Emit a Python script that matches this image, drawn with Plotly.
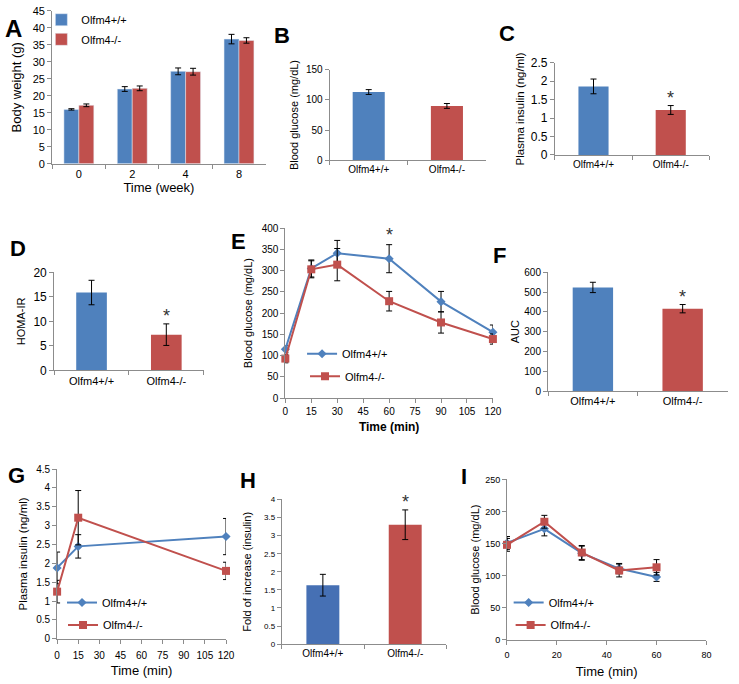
import plotly.graph_objects as go

W, H = 739, 684
BLUE = "#4F81BD"
RED = "#C0504D"
FONT = "Liberation Sans"
AXC = "#8C8C8C"

# ---------------- data ----------------
genotypes = ["Olfm4+/+", "Olfm4-/-"]

# A: body weight
weeks = ["0", "2", "4", "8"]
bw_wt = [16.0, 22.0, 27.2, 36.7]
bw_wt_err = [0.2, 0.7, 1.0, 1.4]
bw_ko = [17.2, 22.2, 27.1, 36.3]
bw_ko_err = [0.4, 0.7, 1.0, 0.8]

# B: fasting blood glucose
glu = [113, 90]
glu_err = [4, 4]

# C: plasma insulin
ins = [1.86, 1.22]
ins_err = [0.2, 0.12]

# D: HOMA-IR
homa = [15.9, 7.3]
homa_err = [2.5, 2.2]

# E: GTT
gtt_t = [0, 15, 30, 60, 90, 120]
gtt_wt = [115, 305, 341, 328, 227, 155]
gtt_wt_err = [8, 20, 30, 33, 24, 17]
gtt_ko = [93, 303, 314, 228, 178, 139]
gtt_ko_err = [10, 20, 38, 23, 25, 12]

# F: AUC
auc = [523, 416]
auc_err = [26, 21]

# G: GSIS insulin
gs_t = [0, 15, 120]
gs_wt = [1.88, 2.45, 2.71]
gs_wt_err = [0.42, 0.31, 0.48]
gs_ko = [1.25, 3.21, 1.80]
gs_ko_err = [0.30, 0.72, 0.23]

# H: fold increase
fold = [1.63, 3.30]
fold_err = [0.30, 0.41]

# I: ITT
itt_t = [0, 15, 30, 45, 60]
itt_wt = [151, 173, 135, 111, 98]
itt_wt_err = [10, 11, 11, 8, 7]
itt_ko = [148, 184, 136, 108, 113]
itt_ko_err = [10, 10, 11, 10, 12]

# --------------- layout helpers ---------------
def xd(l, r):
    return [l / W, r / W]

def yd(t, b):
    return [1 - b / H, 1 - t / H]

def eb(arr):
    return dict(type="data", array=arr, visible=True, color="black", thickness=1, width=3)

fig = go.Figure()
layout = dict(
    width=W, height=H, margin=dict(l=0, r=0, t=0, b=0),
    paper_bgcolor="white", plot_bgcolor="white",
    font=dict(family=FONT, color="black"),
    showlegend=True,
    annotations=[],
)

def axes(n, xdom, ydom, yrange, ydtick, ytitle, ytsize=11, yfsize=11, xtitle=None, xtsize=11,
         xfsize=11, xcat=True, xrange=None, xdtick=None, xbold=False, ystand=6, xstand=4, xlstand=0):
    xs = "xaxis" if n == 1 else f"xaxis{n}"
    ys = "yaxis" if n == 1 else f"yaxis{n}"
    ya = "y" if n == 1 else f"y{n}"
    xa = "x" if n == 1 else f"x{n}"
    xax = dict(domain=xdom, anchor=ya, showgrid=False, zeroline=False, showline=True,
               linecolor=AXC, linewidth=1, ticks="outside", ticklen=4, tickcolor=AXC,
               ticklabelstandoff=xlstand, tickfont=dict(size=xtsize, family=FONT))
    if xcat:
        xax.update(type="category", tickson="boundaries")
    else:
        xax.update(range=xrange, dtick=xdtick, tick0=0)
    if xtitle:
        t = f"<b>{xtitle}</b>" if xbold else xtitle
        xax["title"] = dict(text=t, font=dict(size=xfsize, family=FONT), standoff=xstand)
    yax = dict(domain=ydom, anchor=xa, range=yrange, dtick=ydtick, tick0=0, showgrid=False,
               zeroline=False, showline=True, linecolor=AXC, linewidth=1, ticks="outside",
               ticklen=4, tickcolor=AXC, tickfont=dict(size=ytsize, family=FONT),
               title=dict(text=ytitle, font=dict(size=yfsize, family=FONT), standoff=ystand))
    layout[xs] = xax
    layout[ys] = yax
    return xa, ya

def star(xa, ya, x, y, shift=8):
    layout["annotations"].append(dict(xref=xa, yref=ya, x=x, y=y, text="*", showarrow=False,
                                      yanchor="middle", yshift=shift,
                                      font=dict(size=18, family=FONT, color="#333333")))

def panel_label(txt, px, py, size=22):
    layout["annotations"].append(dict(xref="paper", yref="paper", x=px / W, y=1 - py / H,
                                      text=f"<b>{txt}</b>", showarrow=False,
                                      xanchor="center", yanchor="middle",
                                      font=dict(size=size, family=FONT, color="black")))

def single_bar(xa, ya, vals, errs, width=0.4, colors=(BLUE, RED)):
    fig.add_trace(go.Bar(x=genotypes, y=vals, error_y=eb(errs), xaxis=xa, yaxis=ya,
                         marker=dict(color=list(colors), line=dict(width=0)), width=width,
                         showlegend=False))

def line_pair(xa, ya, t, wt, wt_err, ko, ko_err, lg_wt, lg_ko):
    fig.add_trace(go.Scatter(x=t, y=wt, error_y=eb(wt_err), name="Olfm4+/+", mode="lines+markers",
                             line=dict(color=BLUE, width=2),
                             marker=dict(symbol="diamond", size=7, color=BLUE),
                             xaxis=xa, yaxis=ya, legend=lg_wt, cliponaxis=False))
    fig.add_trace(go.Scatter(x=t, y=ko, error_y=eb(ko_err), name="Olfm4-/-", mode="lines+markers",
                             line=dict(color=RED, width=2),
                             marker=dict(symbol="square", size=8, color=RED),
                             xaxis=xa, yaxis=ya, legend=lg_ko, cliponaxis=False))

# ---------------- A ----------------
xa, ya = axes(1, xd(50, 267), yd(4, 160), [0, 45], 5, "Body weight (g)", ytsize=11, yfsize=13,
              xtitle="Time (week)", xtsize=11, xfsize=13, ystand=8, xstand=3)
fig.add_trace(go.Bar(x=weeks, y=bw_wt, error_y=eb(bw_wt_err), name="Olfm4+/+", xaxis=xa, yaxis=ya,
                     marker_color=BLUE, width=0.28, offset=-0.28, legend="legend"))
fig.add_trace(go.Bar(x=weeks, y=bw_ko, error_y=eb(bw_ko_err), name="Olfm4-/-", xaxis=xa, yaxis=ya,
                     marker_color=RED, width=0.28, offset=0.0, legend="legend5"))
panel_label("A", 11, 22, 24)

# ---------------- B ----------------
xa, ya = axes(2, xd(332, 491), yd(64, 156.5), [0, 150], 50, "Blood glucose (mg/dL)", ytsize=10,
              yfsize=11, xtsize=10, ystand=5)
single_bar(xa, ya, glu, glu_err, width=0.41)
panel_label("B", 284, 29)

# ---------------- C ----------------
xa, ya = axes(3, xd(561, 718), yd(57, 151), [0, 2.5], 0.5, "Plasma insulin (ng/ml)", ytsize=12,
              yfsize=11.5, xtsize=10, ystand=3)
single_bar(xa, ya, ins, ins_err, width=0.39)
star(xa, ya, genotypes[1], ins[1] + ins_err[1])
panel_label("C", 512, 27)

# ---------------- D ----------------
xa, ya = axes(4, xd(52, 204), yd(271, 371), [0, 20], 5, "HOMA-IR", ytsize=12, yfsize=11, xtsize=11,
              ystand=5)
single_bar(xa, ya, homa, homa_err, width=0.41)
star(xa, ya, genotypes[1], homa[1] + homa_err[1])
panel_label("D", 15, 247)

# ---------------- E ----------------
xa, ya = axes(5, xd(287, 498), yd(225.7, 399.3), [0, 400], 50, "Blood glucose (mg/dL)", ytsize=10,
              yfsize=11, xtitle="Time (min)", xtsize=10, xfsize=12, xcat=False, xrange=[0, 120],
              xdtick=15, xbold=True, xstand=6)
line_pair(xa, ya, gtt_t, gtt_wt, gtt_wt_err, gtt_ko, gtt_ko_err, "legend2", "legend6")
star(xa, ya, 60, gtt_wt[3] + gtt_wt_err[3], shift=10)
panel_label("E", 239, 239)

# ---------------- F ----------------
xa, ya = axes(6, xd(554, 736.5), yd(270.7, 392.3), [0, 600], 100, "AUC", ytsize=10, yfsize=11,
              xtsize=11, ystand=2)
single_bar(xa, ya, auc, auc_err, width=0.45)
star(xa, ya, genotypes[1], auc[1] + auc_err[1])
panel_label("F", 505, 254)

# ---------------- G ----------------
xa, ya = axes(7, xd(55, 226.7), yd(471.7, 645), [0, 4.5], 0.5, "Plasma insulin (ng/ml)", ytsize=10,
              yfsize=11.5, xtitle="Time (min)", xtsize=10, xfsize=13, xcat=False, xrange=[0, 120],
              xdtick=15, xstand=6, xlstand=3)
line_pair(xa, ya, gs_t, gs_wt, gs_wt_err, gs_ko, gs_ko_err, "legend3", "legend7")
panel_label("G", 14, 478)

# ---------------- H ----------------
xa, ya = axes(8, xd(283.3, 450.7), yd(502.7, 650.5), [0, 4], 0.5, "Fold of increase (insulin)", ytsize=8,
              yfsize=11, xtsize=10, ystand=10)
single_bar(xa, ya, fold, fold_err, width=0.4, colors=("#4670B4", RED))
star(xa, ya, genotypes[1], fold[1] + fold_err[1])
panel_label("H", 249, 483)

# ---------------- I ----------------
xa, ya = axes(9, xd(512.3, 715), yd(482.3, 646), [0, 250], 50, "Blood glucose (mg/dL)", ytsize=9,
              yfsize=11, xtitle="Time (min)", xtsize=9, xfsize=13, xcat=False, xrange=[0, 80],
              xdtick=20, ystand=3, xstand=8, xlstand=2)
line_pair(xa, ya, itt_t, itt_wt, itt_wt_err, itt_ko, itt_ko_err, "legend4", "legend8")
panel_label("I", 469, 479)

# ---------------- legends (one entry each) ----------------
def leg(text_x, cy, size=11):
    return dict(x=(text_x - 42) / W, y=1 - cy / H, xanchor="left", yanchor="middle",
                bgcolor="rgba(0,0,0,0)", font=dict(size=size, family=FONT), tracegroupgap=0)

layout["legend"] = leg(81, 13)
layout["legend5"] = leg(81, 33)
layout["legend2"] = leg(346, 354)
layout["legend6"] = leg(349, 377)
layout["legend3"] = leg(102, 608)
layout["legend7"] = leg(103, 631)
layout["legend4"] = leg(556, 608)
layout["legend8"] = leg(558, 631)

fig.update_layout(**layout)
fig.write_html("out.html", config={"displayModeBar": False},
               post_script="document.body.style.margin='0';document.body.style.overflow='hidden';")
